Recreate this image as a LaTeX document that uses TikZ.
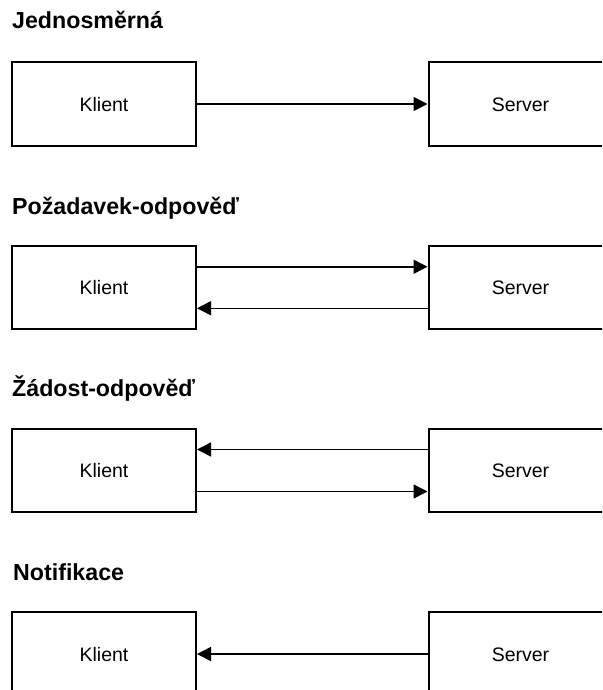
\documentclass[tikz,border=0pt]{standalone}
\usepackage{fontspec}
\setmainfont{Liberation Sans}
\usetikzlibrary{arrows.meta}

\tikzset{
  heading/.style={anchor=base west, inner sep=0pt, font=\fontsize{23.2}{28}\selectfont\bfseries},
  party/.style={draw=black, line width=2pt, fill=white, minimum width=184pt,
    minimum height=83.5pt, inner sep=0pt, font=\fontsize{19.5}{23}\selectfont,
    text height=14pt, text depth=0pt},
  msg/.style={line width=1.5pt, -{Triangle[length=14pt,width=14pt]}}
}

\begin{document}
\begin{tikzpicture}[x=1pt, y=-1pt]
  \useasboundingbox (0,0) rectangle (602,690);
  \clip (0,0) rectangle (602,690);

  % one-way
  \node[heading] (t1) at (12,29) {Jednosměrná};
  \node[party] (k1) at (104,104) {Klient};
  \node[party] (s1) at (520.5,104) {Server};
  \draw[msg] (k1.east) -- (s1.west);

  % request-response
  \node[heading] (t2) at (12,214) {Požadavek-odpověď};
  \node[party] (k2) at (104,287.5) {Klient};
  \node[party] (s2) at (520.5,287.5) {Server};
  \draw[msg] ([yshift=20.75pt]k2.east) -- ([yshift=20.75pt]s2.west);
  \draw[msg] ([yshift=-20.75pt]s2.west) -- ([yshift=-20.75pt]k2.east);

  % solicit-response
  \node[heading] (t3) at (12,396) {Žádost-odpověď};
  \node[party] (k3) at (104,470.5) {Klient};
  \node[party] (s3) at (520.5,470.5) {Server};
  \draw[msg] ([yshift=21pt]s3.west) -- ([yshift=21pt]k3.east);
  \draw[msg] ([yshift=-21pt]k3.east) -- ([yshift=-21pt]s3.west);

  % notification
  \node[heading] (t4) at (13,580) {Notifikace};
  \node[party] (k4) at (104,654) {Klient};
  \node[party] (s4) at (520.5,654) {Server};
  \draw[msg] (s4.west) -- (k4.east);
\end{tikzpicture}
\end{document}
